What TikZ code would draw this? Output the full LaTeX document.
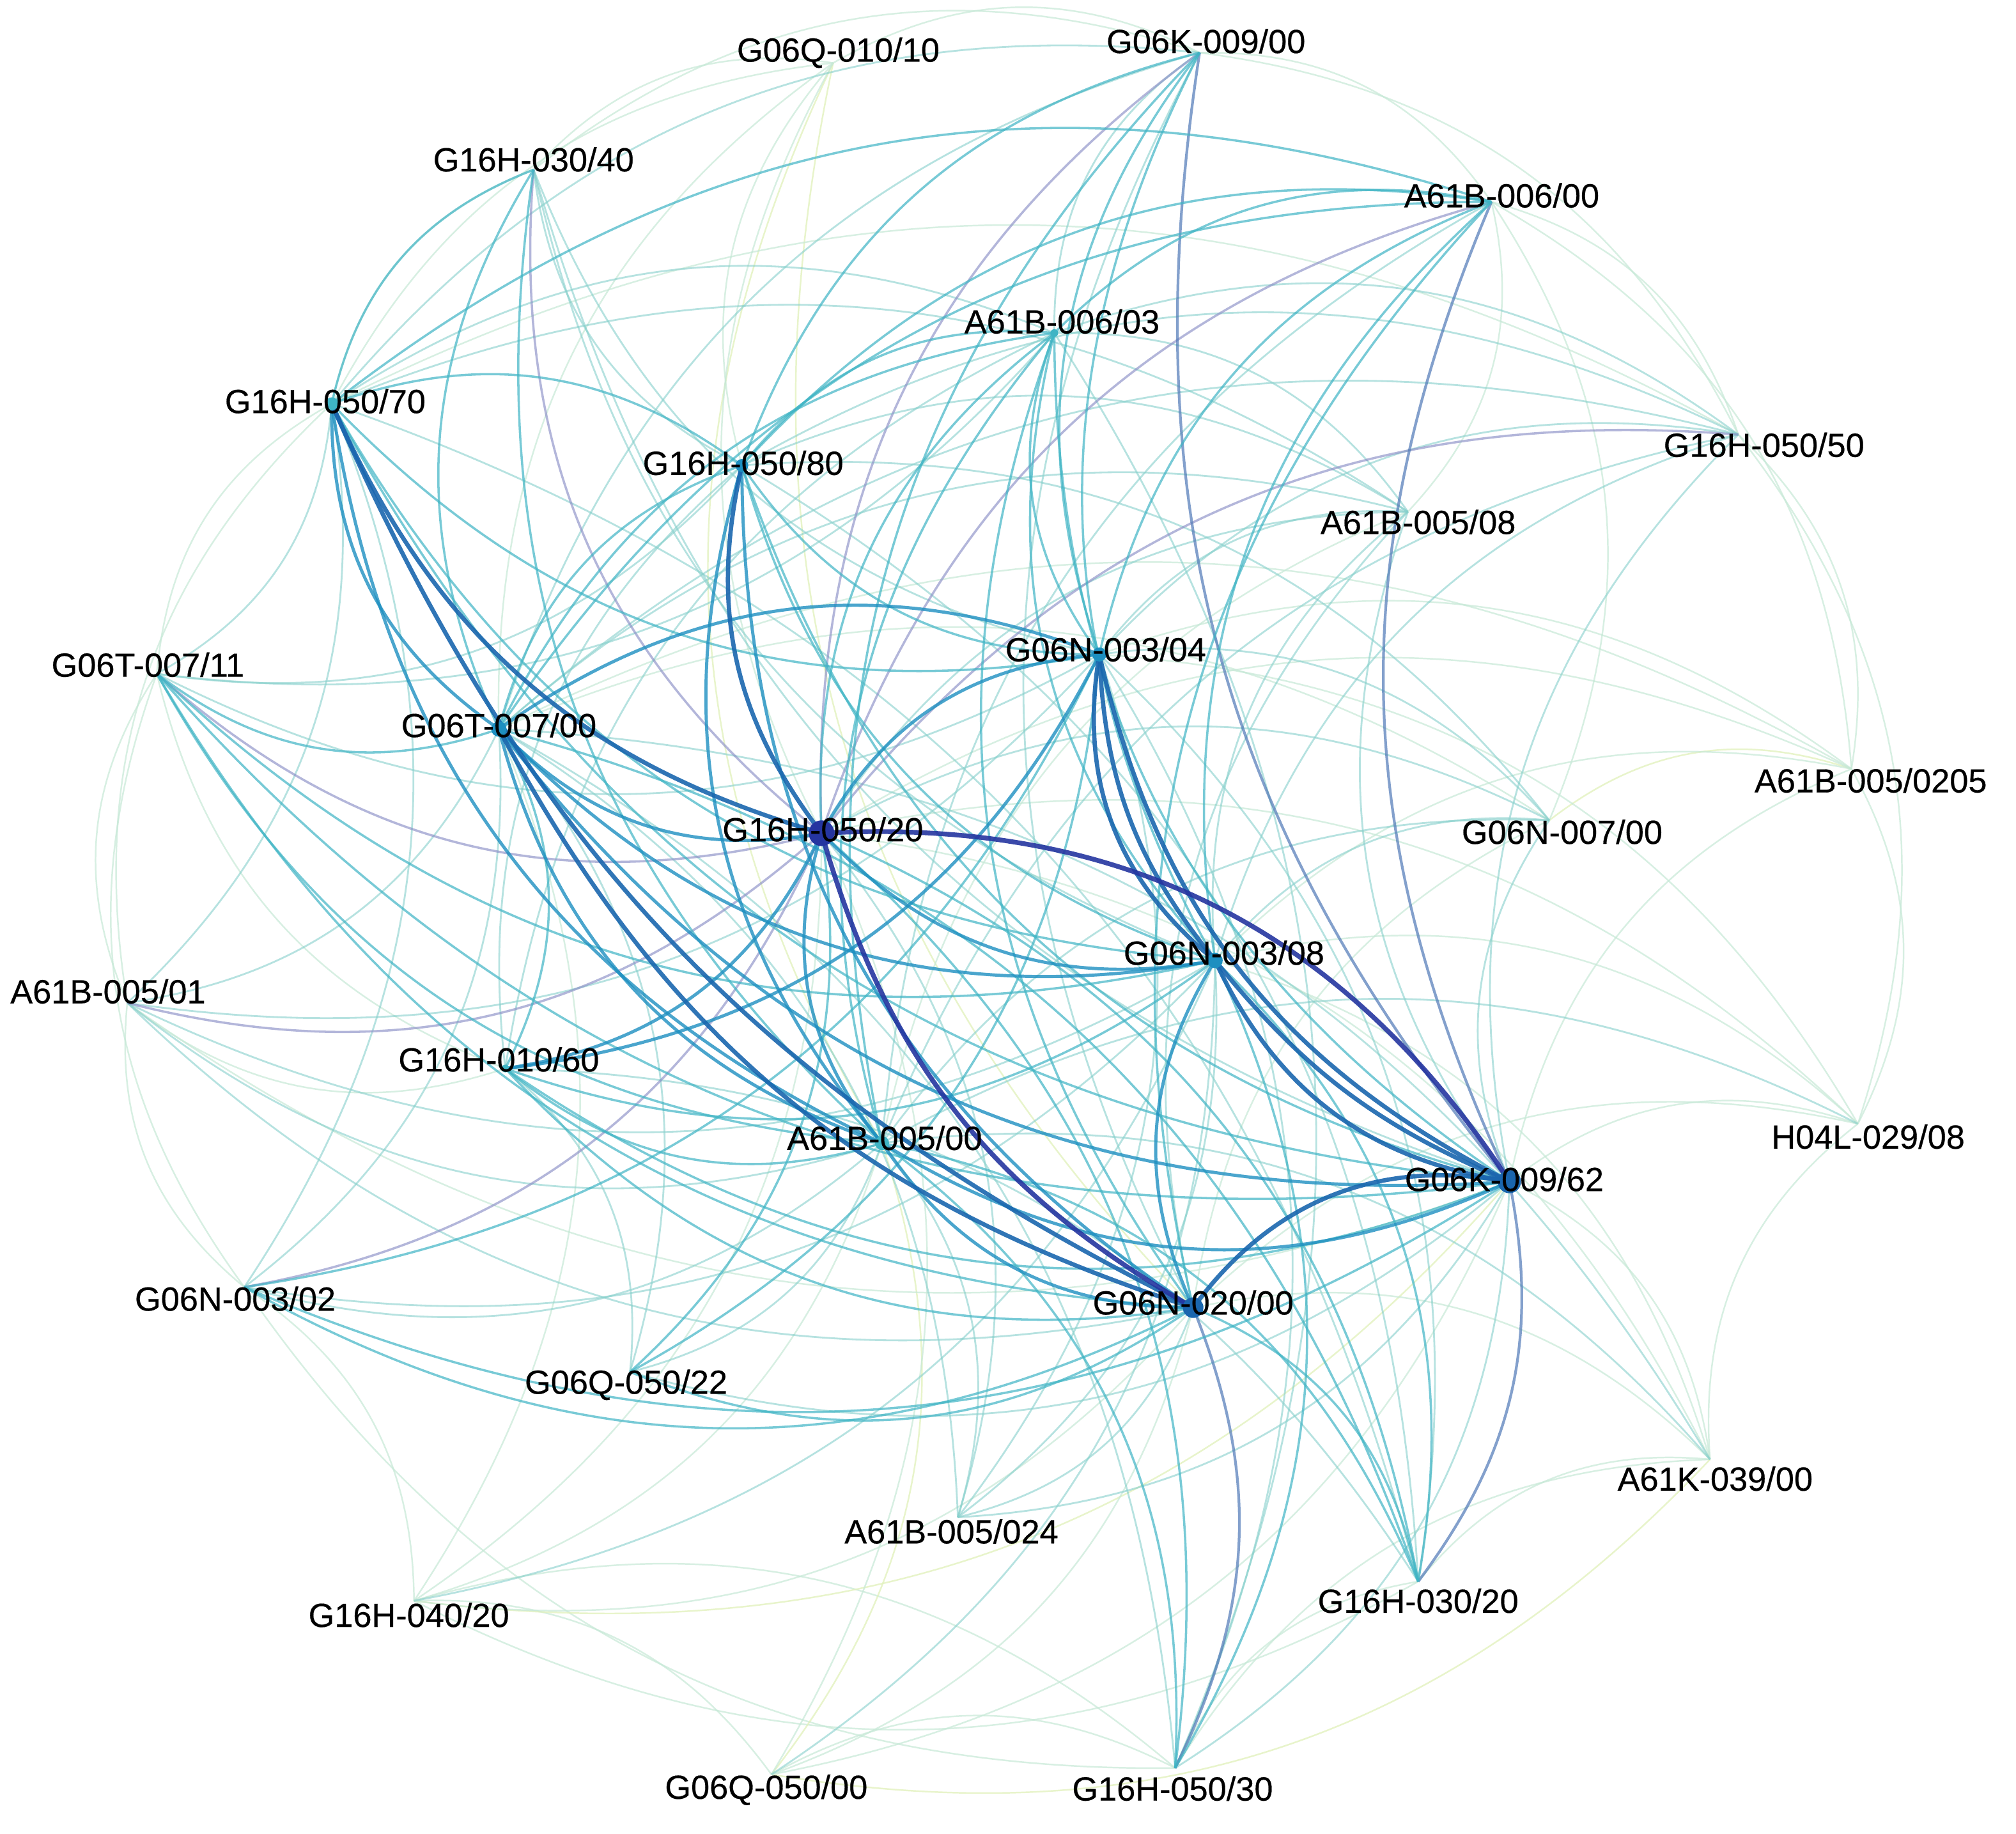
\documentclass[tikz,border=0pt]{standalone}
\usepackage{fontspec}
\setmainfont{Liberation Sans}
\newfontfamily\lblfont[FakeBold=0.4]{Liberation Sans}
\definecolor{cA}{HTML}{C6E8D6}
\definecolor{cY}{HTML}{E2F1BE}
\definecolor{cB}{HTML}{86CFCB}
\definecolor{cC}{HTML}{3FB4C4}
\definecolor{cL}{HTML}{8B8FC6}
\definecolor{cM}{HTML}{4F78B6}
\definecolor{cD}{HTML}{1D8FC0}
\definecolor{cE}{HTML}{1A66AE}
\definecolor{cF}{HTML}{2535A0}
\begin{document}
\begin{tikzpicture}[x=0.1mm,y=-0.1mm,
  e1/.style={draw=cA, line width=0.35pt, draw opacity=0.7},
  e1y/.style={draw=cY, line width=0.35pt, draw opacity=0.8},
  e2/.style={draw=cB, line width=0.4pt, draw opacity=0.6},
  e3/.style={draw=cC, line width=0.5pt, draw opacity=0.7},
  lav/.style={draw=cL, line width=0.5pt, draw opacity=0.65},
  e4l/.style={draw=cM, line width=0.6pt, draw opacity=0.7},
  e4/.style={draw=cD, line width=0.7pt, draw opacity=0.8},
  e5/.style={draw=cE, line width=0.95pt, draw opacity=0.9},
  e6/.style={draw=cF, line width=1.05pt, draw opacity=0.9},
  lbl/.style={font=\lblfont\fontsize{7.4}{8}\selectfont, inner sep=0pt, text=black},
  dotn/.style={circle, inner sep=0pt, draw=none}
]
\useasboundingbox (0,0) rectangle (1568,1426);
% node positions
\coordinate (q1010) at (648,49);
\coordinate (k900) at (933,41);
\coordinate (h3040) at (415,132);
\coordinate (b600) at (1160,157);
\coordinate (b603) at (820,259);
\coordinate (h5070) at (258,314);
\coordinate (h5080) at (577,362);
\coordinate (h5050) at (1352,338);
\coordinate (b508) at (1095,398);
\coordinate (n304) at (855,509);
\coordinate (t711) at (122,524);
\coordinate (t700) at (388,567);
\coordinate (h5020) at (639,648);
\coordinate (b50205) at (1440,598);
\coordinate (n700) at (1205,638);
\coordinate (n308) at (945,747);
\coordinate (b501) at (99,780);
\coordinate (h1060) at (393,831);
\coordinate (b500) at (686,889);
\coordinate (l2908) at (1445,874);
\coordinate (k962) at (1174,919);
\coordinate (n302) at (190,1001);
\coordinate (n2000) at (928,1017);
\coordinate (q5022) at (490,1067);
\coordinate (k3900) at (1330,1135);
\coordinate (b5024) at (745,1180);
\coordinate (h4020) at (322,1245);
\coordinate (h3020) at (1103,1230);
\coordinate (q5000) at (600,1380);
\coordinate (h5030) at (914,1375);

% outer ring and peripheral chords (outward)
\foreach \a/\b in {t711/h5070, h5070/h3040, h3040/q1010, q1010/k900, k900/b600, b600/h5050,
  h5050/b50205, b50205/l2908, n302/b501, b501/t711, b501/h5070, h3040/k900, k900/h5050,
  h5050/l2908, n302/t711, b600/b508}
  \draw[e1] (\a) to[bend left=28] (\b);
% peripheral chords (inward)
\foreach \a/\b in {k3900/l2908, h3020/k3900, h5030/h3020, q5000/h5030, h4020/q5000,
  n302/h4020, h5030/k3900, h4020/h5030, h3020/h4020, h5030/n302}
  \draw[e1] (\a) to[bend left=28] (\b);
\foreach \a/\b in {b500/q1010, n2000/q1010, k962/h4020, b500/q5000, n700/b50205, k3900/q5000}
  \draw[e1y] (\a) to[bend left=28] (\b);
% light edges
\foreach \a/\b in {h5020/q1010, t700/q1010, h5070/q1010, h5080/q1010, h5070/h5050, h1060/t711,
  h1060/b501, k962/b501, h5020/b50205, n304/b50205, n308/b50205, k962/b50205, b600/b50205,
  n2000/n700, t700/n700, k962/l2908, n308/l2908, n2000/l2908, h5020/l2908, k962/k3900,
  n2000/k3900, n308/k3900, h5020/k3900, h5020/h4020, b500/h4020, n2000/h4020, t700/h4020,
  n2000/q5000, k962/q5000, h5020/q5000, b500/b508, t700/b50205, n304/l2908, b600/n700}
  \draw[e1] (\a) to[bend left=28] (\b);
\foreach \a/\b in {b603/k900, t700/k900, h5070/k900, h5080/h3040, n308/h3040, n304/h3040,
  k962/h3040, b500/b600, h5070/b603, h1060/b603, h5070/t711, h5070/b501, n304/h5050,
  t700/h5050, n308/h5050, k962/h5050, h5020/b508, n304/b508, t700/b508, n308/b508,
  k962/b508, n304/t711, k962/n700, n308/n700, n304/n700, h5020/n700, t700/b501, n308/b501,
  b500/b501, n2000/b501, h1060/h5080, b500/n302, n308/n302, t700/n302, t700/q5022,
  b500/q5022, k962/q5022, h5020/b5024, n308/b5024, b500/b5024, n2000/b5024, t700/b5024,
  n304/b5024, n304/h3020, h5080/h3020, h5070/h3020, n304/h5030, k962/h5030, b603/h5030,
  t700/h5030, n2000/k900, h5070/b508, h5080/h5050, b500/n700, b500/l2908, b500/k3900,
  k962/b5024, n308/h4020, n308/q5000, h1060/h3020, t700/k3900, b500/h5050, h5080/b508,
  n2000/b508, h1060/q5022, h5070/n302, h5080/t711, n304/b501, b603/t711, b603/h5050,
  h5080/n700, b603/b508}
  \draw[e2] (\a) to[bend left=28] (\b);
\foreach \a/\b in {h5020/k900, h5020/h3040, h5020/b600, h5020/h5050, h5020/t711,
  h5020/b501, h5020/n302}
  \draw[lav] (\a) to[bend left=28] (\b);
\foreach \a/\b in {k962/k900, k962/b600, k962/h3020, n2000/h5030}
  \draw[e4l] (\a) to[bend left=24] (\b);
% teal edges
\foreach \a/\b in {h5080/k900, n304/k900, n308/k900, b500/k900, h5070/h3040, t700/h3040,
  b500/h3040, t700/b600, h5080/b600, h5070/b600, n304/b600, b603/b600, n308/b600,
  n2000/b600, h5020/b603, t700/b603, n304/b603, n308/b603, n2000/b603, k962/b603,
  b500/b603, h5080/b603, h5070/h5080, n304/h5070, n308/h5070, k962/h5070, t700/h5080,
  n304/h5080, k962/h5080, n308/h5080, t700/t711, n308/t711, n2000/t711, b500/t711,
  k962/t711, n308/h1060, n2000/h1060, k962/h1060, b500/h1060, t700/h1060, n304/n302,
  n2000/n302, k962/n302, h5020/q5022, n2000/q5022, n304/q5022, h5020/h3020, n308/h3020,
  n2000/h3020, b500/h3020, t700/h3020, h5020/h5030, n308/h5030, b500/h5030}
  \draw[e3] (\a) to[bend left=28] (\b);
% strong edges
\foreach \a/\b in {k962/t700, n308/t700, h5020/t700, t700/n304, k962/b500, b500/h5020,
  t700/h5070, h5020/n304, n308/h5020, n2000/n308, n2000/b500, b500/t700, n2000/h5080,
  b500/h5070, b500/h5080, n304/h1060, h5020/h1060}
  \draw[e4] (\a) to[bend left=28] (\b);
\draw[e5] (n308) to[bend left=18] (n304);
\draw[e5] (n308) to[bend left=30] (n304);
\draw[e5] (k962) to[bend left=25] (n304);
\draw[e5] (k962) to[bend left=14] (n308);
\draw[e5] (k962) to[bend left=28] (n308);
\draw[e5] (n2000) to[bend left=32] (k962);
\draw[e5] (h5020) to[bend left=25] (h5080);
\draw[e5] (h5020) to[bend left=25] (h5070);
\draw[e5] (n2000) to[bend left=20] (h5070);
\draw[e5] (n2000) to[bend left=22] (t700);
\draw[e6] (h5020) to[bend left=30] (k962);
\draw[e6] (n2000) to[bend left=22] (h5020);

% node dots
\node[dotn, fill=cF, minimum size=2.0mm] (dh5020) at (h5020) {};
\node[dotn, fill=cE, minimum size=1.8mm] (dk962) at (k962) {};
\node[dotn, fill=cE, minimum size=1.6mm] (dn2000) at (n2000) {};
\node[dotn, fill=cD, minimum size=1.2mm] (dn308) at (n308) {};
\node[dotn, fill=cD, minimum size=1.1mm] (dn304) at (n304) {};
\node[dotn, fill=cD, minimum size=1.2mm] (dt700) at (t700) {};
\node[dotn, fill=cC, minimum size=1.1mm] (db500) at (b500) {};
\node[dotn, fill=cC, minimum size=1.0mm] (dh5070) at (h5070) {};
\node[dotn, fill=cD, minimum size=1.0mm] (dh5080) at (h5080) {};
\node[dotn, fill=cC, minimum size=0.6mm] (db603) at (b603) {};
\node[dotn, fill=cC, minimum size=0.6mm] (dh1060) at (h1060) {};

% labels
\node[lbl] (lq1010) at (652,41) {G06Q-010/10};
\node[lbl] (lk900) at (938,32) {G06K-009/00};
\node[lbl] (lh3040) at (415,124) {G16H-030/40};
\node[lbl] (lb600) at (1168,152) {A61B-006/00};
\node[lbl] (lb603) at (826,250) {A61B-006/03};
\node[lbl] (lh5070) at (253,312) {G16H-050/70};
\node[lbl] (lh5080) at (578,360) {G16H-050/80};
\node[lbl] (lh5050) at (1372,346) {G16H-050/50};
\node[lbl] (lb508) at (1103,406) {A61B-005/08};
\node[lbl] (ln304) at (860,505) {G06N-003/04};
\node[lbl] (lt711) at (115,517) {G06T-007/11};
\node[lbl] (lt700) at (388,564) {G06T-007/00};
\node[lbl] (lh5020) at (640,645) {G16H-050/20};
\node[lbl] (lb50205) at (1455,607) {A61B-005/0205};
\node[lbl] (ln700) at (1215,647) {G06N-007/00};
\node[lbl] (ln308) at (952,741) {G06N-003/08};
\node[lbl] (lb501) at (84,771) {A61B-005/01};
\node[lbl] (lh1060) at (388,824) {G16H-010/60};
\node[lbl] (lb500) at (688,885) {A61B-005/00};
\node[lbl] (ll2908) at (1453,884) {H04L-029/08};
\node[lbl] (lk962) at (1170,917) {G06K-009/62};
\node[lbl] (ln302) at (183,1010) {G06N-003/02};
\node[lbl] (ln2000) at (928,1013) {G06N-020/00};
\node[lbl] (lq5022) at (487,1077) {G06Q-050/22};
\node[lbl] (lk3900) at (1334,1150) {A61K-039/00};
\node[lbl] (lb5024) at (740,1191) {A61B-005/024};
\node[lbl] (lh4020) at (318,1256) {G16H-040/20};
\node[lbl] (lh3020) at (1103,1245) {G16H-030/20};
\node[lbl] (lq5000) at (596,1392) {G06Q-050/00};
\node[lbl] (lh5030) at (912,1391) {G16H-050/30};
\end{tikzpicture}
\end{document}
